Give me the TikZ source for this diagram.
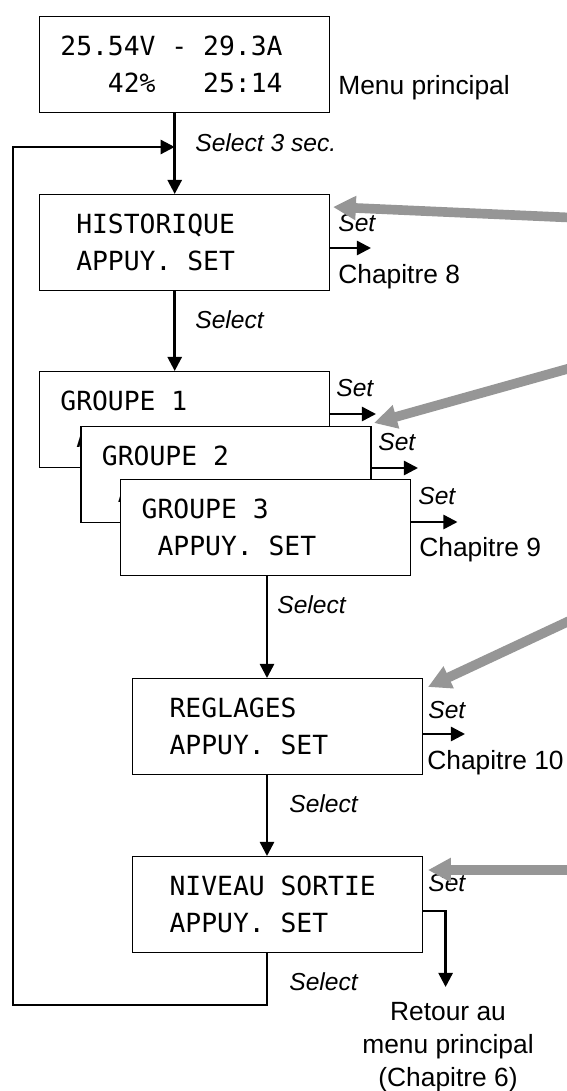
\documentclass[tikz,border=0pt]{standalone}
\usepackage{fontspec}
\setmainfont{Liberation Sans}
\newfontfamily\lcdfont{DejaVu Sans Mono}
\usetikzlibrary{arrows.meta}
\usetikzlibrary{positioning}
\definecolor{hintgray}{RGB}{150,150,150}
\newcommand\lsp{\hphantom{0}}
\tikzset{lcd/.style={draw, line width=0.8pt, fill=white, anchor=north west, align=left, text width=4.96cm, inner xsep=0.42cm, inner ysep=0pt, minimum height=1.92cm, font=\lcdfont\fontsize{15}{21}\selectfont}}
\tikzset{lbl/.style={anchor=west, inner sep=0pt, font=\fontsize{15}{18.8}\selectfont}}
\tikzset{sel/.style={anchor=west, inner sep=0pt, font=\fontsize{14}{15}\selectfont\itshape}}
\tikzset{conn/.style={line width=1.4pt}}
\tikzset{hint/.style={draw=hintgray, line width=5.5pt, -{Triangle[length=13pt,width=13pt]}}}

\begin{document}
\begin{tikzpicture}[x=0.02cm, y=-0.02cm, >={Triangle[length=8pt,width=8pt]}]
\useasboundingbox (0,0) rectangle (567,1091);

\node (top) [lcd] at (38.7,16) {25.54V\lsp-\lsp29.3A\\\lsp\lsp\lsp42\%\lsp\lsp\lsp25:14};
\node (menu) [lbl] at (338,88) {Menu principal};

\node (hist) [lcd] at (38.7,194) {\lsp HISTORIQUE\\\lsp APPUY.\lsp SET};
\node (g1) [lcd] at (38.7,371) {GROUPE\lsp1\\\lsp APPUY.\lsp SET};
\node (g2) [lcd] at (80.3,426) {GROUPE\lsp2\\\lsp APPUY.\lsp SET};
\node (g3) [lcd] at (120,479) {GROUPE\lsp3\\\lsp APPUY.\lsp SET};
\node (regl) [lcd] at (132,678) {\lsp REGLAGES\\\lsp APPUY.\lsp SET};
\node (niv) [lcd] at (132,856) {\lsp NIVEAU\lsp SORTIE\\\lsp APPUY.\lsp SET};

\node (s0) [sel] at (195,143) {Select 3 sec.};
\node (s1) [sel] at (195,320) {Select};
\node (s2) [sel] at (277,605) {Select};
\node (s3) [sel] at (289,804) {Select};
\node (s4) [sel] at (289,982) {Select};

\node (set8) [sel] at (338,223) {Set};
\node (set1) [sel] at (336,388) {Set};
\node (set2) [sel] at (378,442) {Set};
\node (set3) [sel] at (418,496) {Set};
\node (set10) [sel] at (428,710) {Set};
\node (set6) [sel] at (428,883) {Set};

\node (ch8) [lbl] at (338,277) {Chapitre 8};
\node (ch9) [lbl] at (419,550) {Chapitre 9};
\node (ch10) [lbl] at (427,763) {Chapitre 10};
\node (back) [lbl, anchor=center, align=center] at (448,1047) {Retour au\\menu principal\\(Chapitre 6)};

\coordinate (spine) at (174.7,0);
\coordinate (mid) at (267,0);
\coordinate (lb) at (13,1005);
\coordinate (lt) at (13,147);
\draw[conn,->] (top.south -| spine) -- (hist.north -| spine);
\draw[conn,->] (hist.south -| spine) -- (g1.north -| spine);
\draw[conn,->] (g3.south -| mid) -- (regl.north -| mid);
\draw[conn,->] (regl.south -| mid) -- (niv.north -| mid);
\draw[conn,->] (niv.south -| mid) |- (lb) -- (lt) -- (lt -| spine);

\coordinate (e8) at (371,248);
\coordinate (e1) at (376,414);
\coordinate (e2) at (418,468);
\coordinate (e3) at (457.5,522);
\coordinate (e10) at (465,734);
\coordinate (n6) at (445.6,911);
\coordinate (e6) at (445.6,987);
\draw[conn,->] (hist.east |- e8) -- (e8);
\draw[conn,->] (g1.east |- e1) -- (e1);
\draw[conn,->] (g2.east |- e2) -- (e2);
\draw[conn,->] (g3.east |- e3) -- (e3);
\draw[conn,->] (regl.east |- e10) -- (e10);
\draw[conn,->] (niv.east |- n6) -- (n6) -- (e6);

\coordinate (h1a) at (580,218);
\coordinate (h1b) at (333,207);
\coordinate (h2a) at (580,365.4);
\coordinate (h2b) at (374,423);
\coordinate (h3a) at (580,615.9);
\coordinate (h3b) at (428,687);
\coordinate (h4a) at (580,870);
\coordinate (h4b) at (428,870);
\draw[hint] (h1a) -- (h1b);
\draw[hint] (h2a) -- (h2b);
\draw[hint] (h3a) -- (h3b);
\draw[hint] (h4a) -- (h4b);
\end{tikzpicture}
\end{document}
